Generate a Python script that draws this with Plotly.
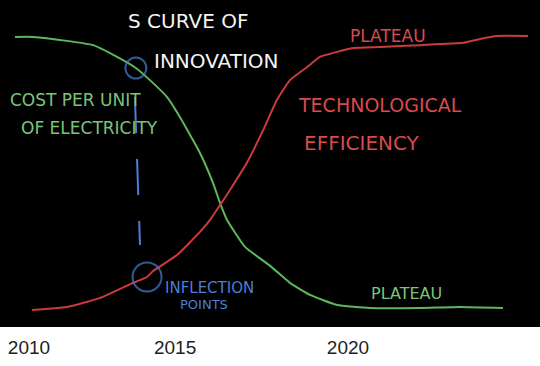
import plotly.graph_objects as go

# ---- data (x in years, y in relative level 0-100) ----
cost_years = [2009.56, 2010.13, 2011.19, 2012.01, 2012.76, 2013.35, 2013.79, 2014.33,
              2014.73, 2015.36, 2015.77, 2015.99, 2016.21, 2016.77, 2017.56, 2018.18,
              2018.81, 2019.66, 2020.69, 2022.26, 2023.51, 2024.86]
cost_values = [88.7, 88.7, 87.5, 86.2, 82.6, 79.2, 75.5, 70.3,
               64.2, 53.2, 44.0, 37.9, 32.7, 24.5, 18.7, 13.5,
               9.8, 6.7, 5.8, 5.8, 6.1, 5.8]

eff_years = [2010.09, 2011.19, 2012.23, 2013.26, 2013.70, 2013.89, 2014.64, 2015.36,
             2015.67, 2015.99, 2016.30, 2016.83, 2017.34, 2017.77, 2018.18, 2018.72,
             2019.12, 2020.16, 2021.00, 2022.26, 2023.61, 2024.14, 2024.67, 2025.64]
eff_values = [5.2, 6.1, 8.9, 13.5, 15.3, 17.1, 22.0, 29.1,
              32.7, 37.3, 41.9, 50.2, 60.2, 69.4, 75.5, 79.5,
              82.6, 85.3, 85.6, 86.2, 86.9, 88.1, 89.0, 89.0]

inflection_years = [2013.35, 2013.70]
inflection_values = [79.2, 15.3]

guide_years = [2013.32, 2013.48]
guide_values = [70.3, 25.1]

tick_positions = [2010, 2014.58, 2020]
tick_labels = ["2010", "2015", "2020"]

labels = ["S CURVE OF", "INNOVATION", "COST PER UNIT", "OF ELECTRICITY", "PLATEAU",
          "TECHNOLOGICAL", "EFFICIENCY", "PLATEAU", "INFLECTION", "POINTS"]
label_years = [2014.98, 2015.89, 2011.47, 2011.91, 2021.25, 2021.00, 2020.44, 2021.82, 2015.67, 2015.49]
label_values = [93.6, 81.3, 69.4, 60.9, 89.0, 67.9, 56.3, 10.1, 11.9, 7.0]

GREEN = "#5cb85a"
GREEN_T = "#7cc47a"
RED = "#cc3a3e"
RED_T = "#d94a4e"
BLUE = "#4a7fd8"
WHITE = "#f4f4f4"
label_colors = [WHITE, WHITE, GREEN_T, GREEN_T, RED_T, RED_T, RED_T, GREEN_T, BLUE, BLUE]
label_sizes = [20, 20, 17, 17, 17, 19, 20, 16, 15, 13]

fig = go.Figure()
fig.add_trace(go.Scatter(x=cost_years, y=cost_values, mode="lines",
                         line=dict(color=GREEN, width=2, shape="spline", smoothing=0.4),
                         hoverinfo="skip"))
fig.add_trace(go.Scatter(x=eff_years, y=eff_values, mode="lines",
                         line=dict(color=RED, width=2, shape="spline", smoothing=0.4),
                         hoverinfo="skip"))
fig.add_trace(go.Scatter(x=guide_years, y=guide_values, mode="lines",
                         line=dict(color=BLUE, width=2, dash="36px,26px"),
                         hoverinfo="skip"))
fig.add_trace(go.Scatter(x=inflection_years, y=inflection_values, mode="markers",
                         marker=dict(symbol="circle-open", size=[21, 29],
                                     line=dict(color=BLUE, width=2), color=BLUE),
                         hoverinfo="skip"))

for t, xv, yv, c, s in zip(labels, label_years, label_values, label_colors, label_sizes):
    fig.add_annotation(x=xv, y=yv, xref="x", yref="y", text=t, showarrow=False,
                       font=dict(family="DejaVu Sans", size=s, color=c))

fig.update_layout(
    width=540, height=366,
    margin=dict(l=0, r=0, t=0, b=39),
    paper_bgcolor="white",
    plot_bgcolor="black",
    showlegend=False,
    xaxis=dict(range=[2009.091, 2026.019], tickvals=tick_positions, ticktext=tick_labels,
               showgrid=False, zeroline=False, showline=False, ticks="",
               ticklabelstandoff=7,
               tickfont=dict(family="Liberation Sans", size=19, color="#222222"),
               fixedrange=True),
    yaxis=dict(range=[0, 100], showgrid=False, zeroline=False, showticklabels=False,
               showline=False, fixedrange=True),
)

fig.write_html("out.html", config={"displayModeBar": False},
               post_script="document.body.style.margin='0';document.body.style.padding='0';")
